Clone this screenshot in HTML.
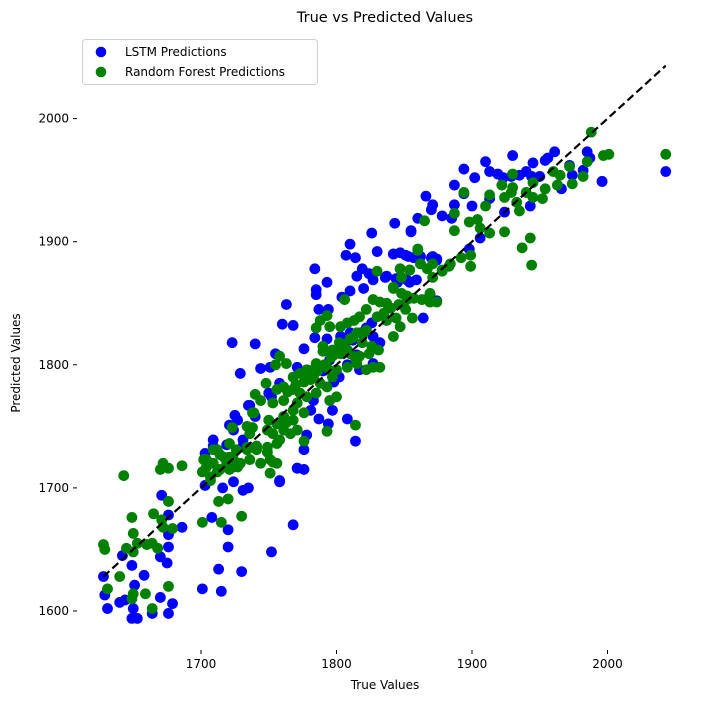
<!DOCTYPE html>
<html><head><meta charset="utf-8"><style>
body{margin:0;background:#fff;}
svg{display:block;font-family:"DejaVu Sans","Liberation Sans",sans-serif;}
</style></head><body>
<svg id="chart" width="704" height="701" viewBox="0 0 704 701" xmlns="http://www.w3.org/2000/svg">
<text x="385" y="22" font-size="14.5" text-anchor="middle" fill="#000">True vs Predicted Values</text>
<g id="ticks"></g>
<g id="marks"></g>
<text x="385" y="689" font-size="12" text-anchor="middle">True Values</text>
<text transform="translate(20,363) rotate(-90)" font-size="12" text-anchor="middle">Predicted Values</text>
<g>
<rect x="82.5" y="39.5" width="235" height="45" rx="3" fill="#fff" stroke="#d0d0d0"/>
<circle cx="101" cy="52" r="5.3" fill="#0000ff"/>
<text x="125" y="56" font-size="12">LSTM Predictions</text>
<circle cx="101" cy="72" r="5.3" fill="#008000"/>
<text x="125" y="76" font-size="12">Random Forest Predictions</text>
</g>
</svg>
<script>
const xTicks=[1700,1800,1900,2000];
const yTicks=[1600,1700,1800,1900,2000];
const lstmTrue=[1736,1727,1709,1721,1731,1719,1758,1771,1768,1752,1671,1676,1686,1676,1676,1670,1675,1649,1658,1651,1628,1629,1631,1640,1644,1650,1649,1653,1664,1670,1679,1676,1708,1720,1720,1713,1730,1701,1715,1703,1716,1724,1731,1735,1642,
1826,1855,1810,1830,1807,1814,1842,1847,1853,1862,1871,1874,1784,1819,1824,1815,1827,1837,1844,1852,1820,1793,1785,1785,1810,1804,1763,1787,1760,1768,1794,1784,1793,1803,1810,1822,1827,1723,1740,1776,1755,1729,1744,1751,1771,1817,1827,1750,1752,1735,1740,1758,1783,1781,1797,1794,1787,1808,1814,1725,1724,1709,1731,1776,1778,1771,1776,1758,1703,1864,1869,1874,1859,
1930,1961,1985,1987,1954,1945,1910,1913,1894,1902,1919,1923,1929,1935,1940,1944,1950,1956,1972,1974,1982,1996,1966,1887,1894,1866,1871,1870,1878,1885,1887,1900,1924,1943,1860,1843,1855,1906,1898,1913,1842,1851,1857,1870,1874,1836,1845,1854,2043,1996,
1800,1806,1812,1818,1795,1790,1802,1815,1822,1808,1798,1826,1832];
const lstmPred=[1767,1755,1739,1751,1739,1735,1705,1716,1670,1648,1694,1678,1668,1662,1652,1644,1639,1637,1629,1621,1628,1613,1602,1607,1609,1602,1594,1594,1598,1611,1606,1598,1676,1666,1652,1634,1632,1618,1616,1702,1700,1705,1698,1700,1645,
1907,1909,1898,1892,1889,1887,1890,1891,1888,1888,1888,1885,1878,1878,1874,1872,1869,1872,1870,1869,1862,1867,1861,1857,1860,1855,1849,1845,1833,1832,1845,1822,1821,1823,1826,1828,1823,1818,1817,1813,1809,1793,1797,1798,1798,1796,1801,1777,1774,1767,1758,1785,1771,1763,1763,1752,1756,1756,1738,1759,1747,1734,1734,1731,1743,1716,1715,1706,1728,1838,1857,1852,1869,
1970,1973,1973,1968,1966,1964,1965,1957,1959,1952,1955,1952,1953,1954,1957,1953,1953,1968,1962,1954,1958,1949,1943,1946,1939,1937,1930,1926,1921,1919,1930,1929,1924,1929,1919,1915,1908,1903,1894,1935,1890,1889,1887,1887,1886,1871,1867,1867,1957,1949,
1810,1815,1820,1826,1804,1795,1790,1808,1830,1800,1786,1834,1818];
const rfTrue=[1643,1672,1676,1686,1670,1676,1649,1665,1671,1672,1679,1650,1628,1629,1645,1650,1653,1660,1664,1668,1640,1631,1650,1649,1659,1676,1664,1701,1715,1713,1720,1730,1704,1709,1714,1721,1727,1734,1741,1749,1753,1723,1738,1738,1749,1758,1763,1768,1701,1712,1707,1719,
1860,1862,1871,1878,1883,1830,1847,1854,1842,1848,1852,1857,1863,1869,1874,1806,1827,1832,1837,1822,1817,1813,1808,1803,1793,1788,1785,1795,1830,1837,1844,1851,1856,1842,1847,1822,1815,1810,1803,1797,1790,1803,1810,1817,1824,1831,1827,1832,1822,1815,1808,1800,1793,1785,1778,1773,1763,1758,1755,1768,1776,1783,1788,1793,1797,1800,1795,1785,1778,1773,1768,1761,1756,1748,1740,1744,1753,1761,1771,1776,1768,1761,1756,1750,1739,1734,1736,1741,1749,1753,1761,1766,1771,1776,1756,1749,1741,1734,1726,1721,1724,1717,1712,1709,1704,1702,1714,1721,1729,1736,1744,1751,1756,1751,1793,1814,1724,1707,
1988,1997,2001,1985,1972,1982,1974,1960,1965,1963,1954,1952,1945,1940,1945,1930,1922,1924,1930,1933,1935,1929,1913,1910,1894,1887,1887,1865,1898,1904,1906,1913,1924,1943,1937,1944,1860,1862,1867,1884,1892,1899,1899,1878,1871,1847,1854,1848,1842,1852,1869,2043,
1805,1812,1819,1798,1791,1786,1781,1814,1826,1808,1796,1802,1820,1835,1840,1846,1790,1778,1783,1770,1764];
const rfPred=[1710,1720,1716,1718,1715,1689,1676,1679,1674,1668,1667,1663,1654,1650,1651,1648,1655,1654,1655,1651,1628,1618,1614,1610,1614,1620,1602,1672,1672,1689,1691,1677,1723,1731,1727,1725,1717,1731,1732,1729,1721,1749,1761,1749,1747,1739,1753,1763,1713,1713,1706,1720,
1893,1882,1882,1876,1880,1876,1878,1877,1862,1858,1853,1854,1853,1851,1851,1853,1853,1851,1850,1845,1839,1836,1834,1831,1840,1836,1830,1831,1839,1836,1838,1845,1838,1823,1831,1828,1826,1821,1817,1812,1815,1809,1809,1807,1809,1812,1798,1798,1796,1801,1798,1796,1798,1801,1796,1793,1801,1807,1800,1790,1786,1790,1785,1782,1790,1774,1771,1777,1774,1777,1780,1782,1780,1785,1776,1771,1769,1771,1769,1761,1755,1758,1752,1755,1761,1750,1744,1734,1747,1744,1747,1744,1747,1738,1736,1733,1731,1733,1731,1736,1723,1725,1731,1720,1717,1723,1715,1715,1720,1723,1720,1723,1720,1712,1746,1751,1717,1709,
1989,1970,1971,1965,1961,1953,1947,1957,1954,1946,1943,1935,1936,1940,1948,1955,1946,1936,1944,1932,1925,1940,1938,1929,1940,1923,1909,1917,1916,1918,1911,1907,1908,1903,1895,1881,1894,1882,1878,1882,1887,1889,1880,1877,1871,1878,1877,1871,1863,1856,1858,1971,
1815,1822,1818,1808,1800,1795,1788,1805,1815,1812,1806,1818,1826,1842,1846,1849,1811,1791,1796,1784,1778];
const xPx=v=>201+(v-1700)*1.355;
const yPx=v=>611-(v-1600)*1.231;
const NS='http://www.w3.org/2000/svg';
const marks=document.getElementById('marks');
const ticks=document.getElementById('ticks');
function mk(tag,parent){const e=document.createElementNS(NS,tag);parent.appendChild(e);return e;}
xTicks.forEach(t=>{
  const l=mk('line',ticks);
  
  
  l.setAttribute('x1',xPx(t));l.setAttribute('x2',xPx(t));l.setAttribute('y1',650);l.setAttribute('y2',654);l.setAttribute('stroke','#000');
  const s=mk('text',ticks);
  
  
  s.setAttribute('x',xPx(t));s.setAttribute('y',668);s.setAttribute('font-size','12');s.setAttribute('text-anchor','middle');s.textContent=t;
});
yTicks.forEach(t=>{
  const l=mk('line',ticks);
  
  
  l.setAttribute('x1',73);l.setAttribute('x2',77);l.setAttribute('y1',yPx(t));l.setAttribute('y2',yPx(t));l.setAttribute('stroke','#000');
  const s=mk('text',ticks);
  
  
  s.setAttribute('x',69);s.setAttribute('y',yPx(t)+4);s.setAttribute('font-size','12');s.setAttribute('text-anchor','end');s.textContent=t;
});
lstmTrue.forEach((v,i)=>{
  const c=mk('circle',marks);
  
  
  c.setAttribute('cx',xPx(v));c.setAttribute('cy',yPx(lstmPred[i]));c.setAttribute('r',5.4);c.setAttribute('fill','#0000ff');
});
rfTrue.forEach((v,i)=>{
  const c=mk('circle',marks);
  
  
  c.setAttribute('cx',xPx(v));c.setAttribute('cy',yPx(rfPred[i]));c.setAttribute('r',5.4);c.setAttribute('fill','#008000');
});
const allTrue=lstmTrue.concat(rfTrue);
const mn=Math.min(...allTrue), mx=Math.max(...allTrue);
const d=mk('line',marks);


d.setAttribute('x1',xPx(mn));d.setAttribute('y1',yPx(mn));d.setAttribute('x2',xPx(mx));d.setAttribute('y2',yPx(mx));
d.setAttribute('stroke','#000');d.setAttribute('stroke-width','2.2');d.setAttribute('stroke-dasharray','8,4');
</script>
</body></html>
